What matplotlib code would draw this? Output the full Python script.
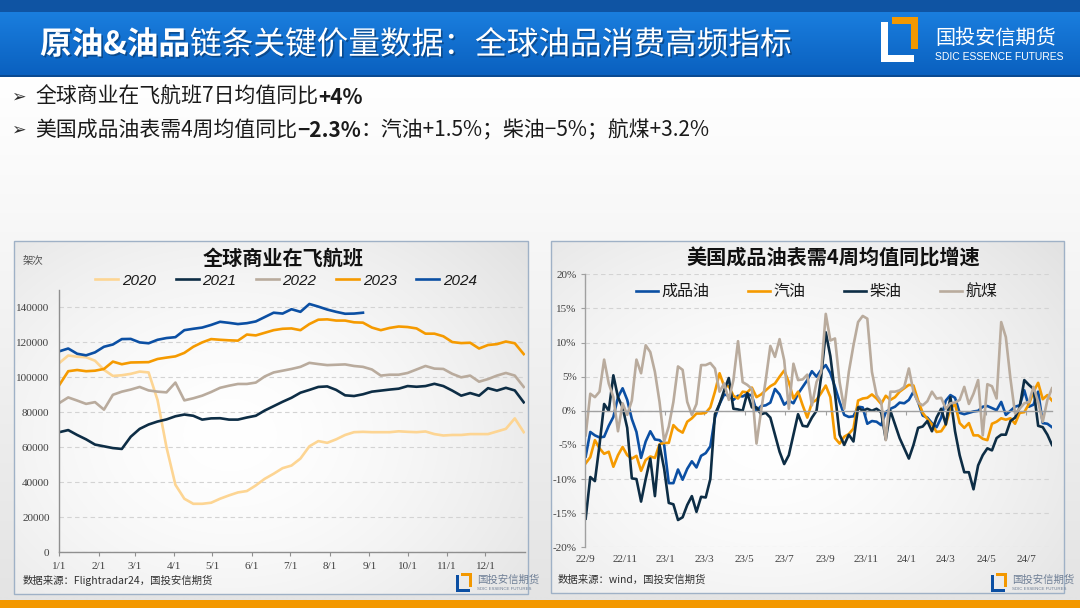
import numpy as np
import pandas as pd
import matplotlib
matplotlib.use("Agg")
import matplotlib.pyplot as plt
import matplotlib.dates as mdates
import matplotlib.patheffects as pe
from matplotlib.colors import to_rgb
from matplotlib.patches import Rectangle, Polygon
from matplotlib.ticker import FuncFormatter

plt.rcParams['font.family'] = ['Noto Sans CJK SC', 'DejaVu Sans']

W, H = 1080, 608

# 左图：全球商业在飞航班（千架次），按周取点，横轴为一年中的第几天
flight_days = list(range(0, 365, 7))
flights_2020 = [108.2, 112.5, 111.8, 111.5, 109.5, 104.3, 100.8, 101.2, 102.0, 103.3,
                102.8, 87.0, 60.0, 38.5, 30.5, 27.6, 27.6, 28.2, 30.5, 32.4,
                34.1, 34.9, 38.1, 41.9, 44.8, 48.0, 49.5, 53.5, 60.5, 63.5,
                62.5, 64.5, 67.0, 68.6, 68.8, 68.6, 68.6, 68.6, 69.1, 68.8,
                68.6, 69.0, 67.5, 66.7, 67.0, 67.0, 67.5, 67.5, 67.5, 69.0,
                70.5, 76.5, 68.6]
flights_2021 = [68.6, 69.8, 67.0, 64.5, 61.5, 60.5, 59.5, 59.0, 66.0, 70.5,
                73.0, 74.7, 75.9, 77.7, 78.7, 78.0, 75.8, 76.5, 76.6, 75.8,
                75.8, 77.0, 78.0, 81.0, 83.5, 86.0, 88.3, 91.2, 92.8, 94.5,
                94.8, 92.8, 89.7, 89.3, 90.3, 91.8, 92.4, 93.0, 93.5, 95.0,
                94.6, 95.0, 96.3, 95.0, 92.4, 89.5, 91.0, 89.5, 93.8, 92.4,
                94.0, 92.5, 85.7]
flights_2022 = [85.3, 88.5, 86.7, 84.8, 85.8, 81.5, 90.0, 91.8, 93.0, 94.5,
                92.5, 91.8, 91.4, 97.0, 86.8, 88.0, 89.5, 91.6, 94.0, 95.2,
                96.2, 96.2, 97.0, 100.5, 102.8, 103.8, 104.8, 106.0, 108.3, 107.6,
                107.0, 107.2, 107.4, 106.5, 106.0, 104.5, 101.0, 101.5, 101.5, 102.5,
                104.5, 106.5, 105.0, 104.8, 102.0, 100.0, 101.0, 97.5, 99.0, 101.0,
                102.5, 101.0, 94.5]
flights_2023 = [95.6, 103.5, 104.2, 103.5, 103.8, 104.8, 109.0, 107.5, 108.5, 108.6,
                108.7, 110.5, 111.3, 112.0, 114.0, 117.5, 120.0, 121.9, 121.5, 121.2,
                121.0, 124.5, 124.0, 125.5, 127.0, 127.8, 128.0, 127.0, 130.5, 133.0,
                133.2, 132.5, 132.5, 131.5, 131.3, 128.5, 127.0, 128.3, 129.1, 128.8,
                128.0, 125.0, 125.0, 123.5, 120.2, 119.6, 119.8, 116.5, 118.5, 119.0,
                120.5, 119.5, 113.3]
flights_2024 = [114.9, 116.5, 113.5, 112.6, 114.3, 117.5, 118.8, 121.9, 122.0, 120.0,
                119.5, 121.5, 122.5, 123.0, 127.0, 127.8, 128.5, 130.0, 131.8, 131.2,
                130.5, 131.0, 132.0, 134.5, 137.0, 136.5, 139.0, 137.5, 142.0, 140.5,
                138.8, 137.5, 136.4, 136.5, 137.0]
flight_years = ["2020", "2021", "2022", "2023", "2024"]
month_ticks = [0, 31, 59, 90, 120, 151, 181, 212, 243, 273, 304, 334]
month_labels = ["1/1", "2/1", "3/1", "4/1", "5/1", "6/1", "7/1", "8/1", "9/1", "10/1", "11/1", "12/1"]
flight_ticks = [0, 20000, 40000, 60000, 80000, 100000, 120000, 140000]

# 右图：美国成品油表需4周均值同比（%），周度
demand_start = "2022-09-02"
total_yoy = [-6.7, -3.1, -3.6, -3.9, -3.8, -2.2, -0.9, 2.0, 3.3, 1.6,
             -1.2, -3.1, -6.9, -4.5, -3.0, -4.2, -4.3, -5.0, -10.6, -10.6,
             -8.6, -10.1, -8.5, -7.4, -8.3, -6.6, -6.2, -5.2, -1.0, 1.0,
             2.4, 2.2, 1.6, 2.2, 2.1, 2.5, 2.2, 0.0, 0.7, 0.8,
             1.2, 3.2, 2.4, 0.9, 1.5, 1.1, 2.5, 3.5, 4.5, 5.8,
             5.0, 6.0, 6.7, 5.5, 3.5, 1.3, -0.6, -0.9, -0.8, 0.6,
             0.5, -1.9, -1.5, -1.6, -2.1, -0.2, 0.3, 0.6, 1.2, 1.1,
             1.6, 2.8, 1.3, -0.7, -1.0, -1.8, -2.4, -1.0, 1.5, 2.3,
             1.9, -0.3, -0.5, -0.3, -0.1, 0.0, 0.6, 0.7, 0.4, 0.1,
             1.3, -0.6, 0.0, 0.6, 0.8, 3.0, 0.6, 0.9, 2.8, -1.8,
             -1.9, -2.4]
gasoline_yoy = [-7.7, -6.8, -4.3, -5.5, -6.3, -6.0, -8.2, -6.5, -5.3, -6.5,
                -7.0, -6.6, -8.8, -7.2, -6.7, -6.9, -4.9, -4.7, -4.7, -2.1,
                -2.8, -3.2, -1.6, -1.1, -0.4, -0.4, -0.3, 0.5, 2.8, 5.5,
                3.6, 3.6, 2.2, 1.8, 2.8, 2.7, 3.4, 2.0, 2.4, 3.0,
                3.6, 4.0, 5.0, 5.9, 4.2, 1.8, 2.8, 0.8, -1.0, 1.2,
                1.6, 2.6, 3.7, 2.0, -4.0, -4.8, -3.8, -3.4, -2.6, 1.5,
                1.8, 1.9, 2.4, 1.8, 1.0, 2.2, 1.6, 2.0, 2.8, 3.3,
                3.8, 3.7, 1.5, -0.3, -1.2, -2.0, -3.1, -3.0, -2.0, 0.3,
                1.0, -1.8, -2.5, -1.8, -3.6, -3.6, -4.1, -4.3, -1.9, -1.6,
                -1.1, -1.3, -1.1, -1.9, -0.3, -0.2, 1.0, 2.8, 4.1, 1.7,
                2.3, 1.5]
diesel_yoy = [-15.8, -9.7, -10.3, -5.0, 1.0, 0.0, 5.2, 2.0, 0.5, -2.5,
              -9.9, -10.0, -13.3, -10.0, -7.0, -12.5, -5.0, -8.5, -13.5, -13.7,
              -16.0, -15.6, -13.8, -12.5, -14.8, -12.6, -12.7, -10.0, -0.5, 1.0,
              3.0, 4.8, 0.3, 0.2, 0.0, 2.6, 0.5, 0.5, -0.5, -0.3,
              -1.0, -3.5, -6.0, -7.8, -6.5, -3.5, -0.5, -2.2, -2.3, -1.0,
              0.0, 5.0, 11.5, 8.0, 2.5, -3.5, -5.0, -3.5, -4.5, 0.5,
              0.0, 0.3, 0.0, 0.3, -0.2, -4.2, 0.0, -2.0, -4.0, -5.5,
              -7.0, -5.0, -2.5, -2.3, -1.5, -3.0, -1.0, 0.3, -2.0, 2.0,
              -3.0, -6.5, -9.0, -9.0, -11.5, -8.0, -6.5, -5.5, -5.8, -4.0,
              -3.5, -3.5, -1.5, -1.0, 0.5, 4.5, 3.8, 3.2, -2.2, -2.4,
              -3.5, -5.0]
jet_yoy = [-3.6, 2.5, 2.0, 2.8, 7.5, 4.0, 2.0, -3.0, 1.1, -0.6,
           1.5, 7.5, 5.5, 9.6, 8.6, 5.7, 1.3, -4.5, -2.3, 1.3,
           6.5, 6.0, 1.3, -0.6, 1.0, 6.7, 6.7, 7.0, 6.2, 2.8,
           4.0, 1.6, 4.5, 10.2, 4.2, 3.8, 3.2, -4.8, 0.0, 4.5,
           9.5, 7.9, 10.5, 7.4, 0.3, 6.9, 4.5, 4.6, 5.3, 0.8,
           4.2, 5.7, 14.2, 10.3, 10.6, 4.2, 0.3, 5.7, 9.6, 13.0,
           13.9, 13.5, 5.7, 2.3, 1.3, -4.3, 2.8, 2.8, 3.0, 3.5,
           6.2, 2.8, 1.2, 0.8, 1.4, 2.8, 1.8, 1.9, 0.3, 1.1,
           1.2, 1.6, 3.5, 1.0, 2.5, 4.5, -3.6, 3.9, 3.6, 1.8,
           13.0, 10.8, 4.7, -0.4, 0.3, 1.1, 1.3, 3.5, 1.3, -1.6,
           1.6, 3.3]
product_names = ["成品油", "汽油", "柴油", "航煤"]
date_ticks = ["2022-09-01", "2022-11-01", "2023-01-01", "2023-03-01", "2023-05-01", "2023-07-01",
              "2023-09-01", "2023-11-01", "2024-01-01", "2024-03-01", "2024-05-01", "2024-07-01"]
date_labels = ["22/9", "22/11", "23/1", "23/3", "23/5", "23/7",
               "23/9", "23/11", "24/1", "24/3", "24/5", "24/7"]

BLUE = "#0b4fa3"
ORANGE = "#f59a00"
NAVY = "#0d2d45"
TAN = "#b9ab9d"
PALE = "#fdd593"
SERIF = "Liberation Serif"


def fig_rect(x0, y0, x1, y1):
    return [x0 / W, 1 - y1 / H, (x1 - x0) / W, (y1 - y0) / H]


def vertical_gradient(ax, x0, y0, x1, y1, c_top, c_bot):
    t = np.linspace(0, 1, 100)[:, None, None]
    img = np.array(to_rgb(c_top)) * (1 - t) + np.array(to_rgb(c_bot)) * t
    img = np.repeat(img, 2, axis=1)
    ax.imshow(img, extent=(x0, x1, y1, y0), aspect='auto', interpolation='bilinear', zorder=0)


def radial_gradient(ax, x0, y0, x1, y1, c_in, c_out):
    yy, xx = np.mgrid[0:1:120j, 0:1:160j]
    r = np.sqrt(((xx - 0.42) / 0.75) ** 2 + ((yy - 0.55) / 0.85) ** 2)
    r = np.clip(r, 0, 1)[..., None] ** 1.6
    img = np.array(to_rgb(c_in)) * (1 - r) + np.array(to_rgb(c_out)) * r
    ax.imshow(img, extent=(x0, x1, y1, y0), aspect='auto', interpolation='bilinear', zorder=1)


def draw_logo(ax, x0, y0, w, h, main, accent):
    t = 0.2 * w
    ax.add_patch(Rectangle((x0, y0 + 0.1 * h), t, 0.9 * h, color=main, zorder=3, lw=0))
    ax.add_patch(Rectangle((x0, y0 + h - t), 0.9 * w, t, color=main, zorder=3, lw=0))
    ax.add_patch(Polygon([(x0 + 0.3 * w, y0), (x0 + w, y0), (x0 + w, y0 + 0.72 * h),
                          (x0 + w - t, y0 + 0.72 * h), (x0 + w - t, y0 + t), (x0 + 0.3 * w, y0 + t)],
                         closed=True, color=accent, zorder=3, lw=0))


fig = plt.figure(figsize=(10.8, 6.08), dpi=100)

# 背景与装饰，用像素坐标
bg = fig.add_axes([0, 0, 1, 1])
vertical_gradient(bg, 0, 76, W, 600, "#ffffff", "#e4e4e4")
bg.add_patch(Rectangle((0, 0), W, 12, color="#0f54a3", zorder=2, lw=0))
vertical_gradient(bg, 0, 12, W, 76, "#1a7ede", "#0a60bf")
bg.add_patch(Rectangle((0, 75), W, 1.5, color="#0a4a92", zorder=2, lw=0))
bg.add_patch(Rectangle((0, 600), W, 8, color="#f39800", zorder=2, lw=0))

radial_gradient(bg, 14, 241, 528, 594, "#ffffff", "#e2e2e2")
radial_gradient(bg, 551, 241, 1064, 593, "#ffffff", "#e2e2e2")
bg.add_patch(Rectangle((14, 241), 514, 353, fill=False, edgecolor="#9fb1c6", lw=1, zorder=2))
bg.add_patch(Rectangle((551, 241), 513, 352, fill=False, edgecolor="#9fb1c6", lw=1, zorder=2))

shadow = [pe.withSimplePatchShadow(offset=(1.2, -1.2), shadow_rgbFace="#06305e", alpha=0.55)]
t1 = bg.text(40, 45, "原油&油品", color="white", fontsize=22.8, fontweight="bold",
             va="center", ha="left", path_effects=shadow, zorder=4)
bg.annotate("链条关键价量数据：全球油品消费高频指标", xy=(1, 0), xycoords=t1, va="bottom", ha="left",
            color="white", fontsize=22.8, path_effects=shadow, zorder=4)

draw_logo(bg, 881, 17, 37, 45, "white", "#f39800")
bg.text(935, 38, "国投安信期货", color="white", fontsize=14.5, va="center", ha="left", zorder=4)
bg.text(935, 57, "SDIC ESSENCE FUTURES", color="white", fontsize=7.5, va="center", ha="left",
        family=["Liberation Sans Narrow", "Liberation Sans"], zorder=4)

# 要点
for y in (97, 130):
    bg.text(11, y, "➢", family="DejaVu Sans", fontsize=12.5, color="#2a2a2a", va="center", zorder=4)
b1 = bg.text(35, 97, "全球商业在飞航班7日均值同比", fontsize=15, color="#1a1a1a", va="center", zorder=4)
bg.annotate("+4%", xy=(1, 0), xycoords=b1, va="bottom", ha="left", fontsize=15,
            fontweight="bold", color="#1a1a1a", zorder=4)
b2 = bg.text(35, 130, "美国成品油表需4周均值同比", fontsize=15, color="#1a1a1a", va="center", zorder=4)
b3 = bg.annotate("−2.3%", xy=(1, 0), xycoords=b2, va="bottom", ha="left", fontsize=15,
                 fontweight="bold", color="#1a1a1a", zorder=4)
bg.annotate("：汽油+1.5%；柴油−5%；航煤+3.2%", xy=(1, 0), xycoords=b3, va="bottom", ha="left",
            fontsize=15, color="#1a1a1a", zorder=4)

# 图标题与注释
bg.text(283, 258, "全球商业在飞航班", fontsize=14.5, fontweight="bold", color="#111111",
        ha="center", va="center", zorder=4)
bg.text(23, 261, "架次", fontsize=7.5, color="#505050", ha="left", va="center", zorder=4)
bg.text(23, 580, "数据来源：Flightradar24，国投安信期货", fontsize=7.5, color="#303030",
        ha="left", va="center", zorder=4)
bg.text(833, 258, "美国成品油表需4周均值同比增速", fontsize=14.5, fontweight="bold", color="#111111",
        ha="center", va="center", zorder=4)
bg.text(558, 580, "数据来源：wind，国投安信期货", fontsize=7.5, color="#303030",
        ha="left", va="center", zorder=4)

for lx in (456, 991):
    draw_logo(bg, lx, 573, 16, 19, "#0b4fa3", "#f39800")
    bg.text(lx + 21, 580, "国投安信期货", fontsize=7.5, color="#6f7f96", ha="left", va="center", zorder=4)
    bg.text(lx + 21, 589, "SDIC ESSENCE FUTURES", fontsize=3.2, color="#6f7f96", ha="left", va="center",
            family="Liberation Sans", zorder=4)

bg.set_xlim(0, W)
bg.set_ylim(H, 0)
bg.set_aspect('auto')
bg.axis('off')

# 左图
axL = fig.add_axes(fig_rect(59.3, 290, 525, 552))
axL.set_facecolor("none")
for vals, color, name in zip([flights_2020, flights_2021, flights_2022, flights_2023, flights_2024],
                             [PALE, NAVY, TAN, ORANGE, BLUE], flight_years):
    axL.plot(flight_days[:len(vals)], np.array(vals) * 1000, color=color, lw=1.9,
             label=name, solid_joinstyle="round")
axL.set_xlim(0, 365)
axL.set_ylim(0, 150000)
axL.set_yticks(flight_ticks)
axL.set_yticklabels([str(v) for v in flight_ticks])
axL.set_xticks(month_ticks)
axL.set_xticklabels(month_labels)
axL.yaxis.grid(True, color="#d3d3d3", lw=0.8, linestyle=(0, (4, 3)))
axL.set_axisbelow(True)
for side in ("top", "right"):
    axL.spines[side].set_visible(False)
for side in ("left", "bottom"):
    axL.spines[side].set_color("#8f8f8f")
    axL.spines[side].set_linewidth(1.0)
axL.tick_params(axis="y", length=0, pad=7, labelsize=8, labelcolor="#404040")
axL.tick_params(axis="x", length=3, pad=4, color="#8f8f8f", labelsize=8, labelcolor="#404040")
for lab in axL.get_xticklabels() + axL.get_yticklabels():
    lab.set_fontfamily(SERIF)
legL = axL.legend(ncol=5, loc="center", bbox_to_anchor=(0.487, 1.036), frameon=False,
                  prop={"family": "Liberation Sans", "style": "italic", "size": 11},
                  handlelength=1.5, handletextpad=0.25, columnspacing=1.27)
for txt in legL.get_texts():
    txt.set_color("#1a1a1a")

# 右图
axR = fig.add_axes(fig_rect(585, 274.3, 1052, 547.3))
axR.set_facecolor("none")
dates = pd.date_range(demand_start, periods=len(total_yoy), freq="7D")
for vals, color, name in zip([total_yoy, gasoline_yoy, diesel_yoy, jet_yoy],
                             [BLUE, ORANGE, NAVY, TAN], product_names):
    axR.plot(dates, vals, color=color, lw=1.9, label=name, solid_joinstyle="round")
axR.set_xlim(pd.Timestamp("2022-09-01"), dates[-1])
axR.set_ylim(-20, 20)
axR.set_yticks(range(-20, 21, 5))
axR.yaxis.set_major_formatter(FuncFormatter(lambda v, p: f"{int(round(v))}%"))
tick_pos = [mdates.date2num(pd.Timestamp(d)) for d in date_ticks]
axR.set_xticks(tick_pos)
axR.set_xticklabels([])
axR.yaxis.grid(True, color="#d3d3d3", lw=0.8, linestyle=(0, (4, 3)))
axR.set_axisbelow(True)
axR.spines["top"].set_visible(False)
axR.spines["right"].set_visible(False)
axR.spines["bottom"].set_position(("data", 0))
for side in ("left", "bottom"):
    axR.spines[side].set_color("#a0a0a0")
    axR.spines[side].set_linewidth(1.0)
axR.tick_params(axis="y", length=3, pad=3, color="#a0a0a0", labelsize=8, labelcolor="#404040")
axR.tick_params(axis="x", length=3, color="#a0a0a0")
for lab in axR.get_yticklabels():
    lab.set_fontfamily(SERIF)
for pos, lab in zip(tick_pos, date_labels):
    axR.text(pos, -0.046, lab, transform=axR.get_xaxis_transform(), ha="center", va="center",
             fontsize=8, color="#404040", family=SERIF)
legR = axR.legend(ncol=4, loc="center", bbox_to_anchor=(0.496, 0.936), frameon=False,
                  prop={"size": 11.5, "style": "italic"},
                  handlelength=1.4, handletextpad=0.2, columnspacing=2.4)
for txt in legR.get_texts():
    txt.set_color("#1a1a1a")

fig.savefig("out.png", dpi=100)
